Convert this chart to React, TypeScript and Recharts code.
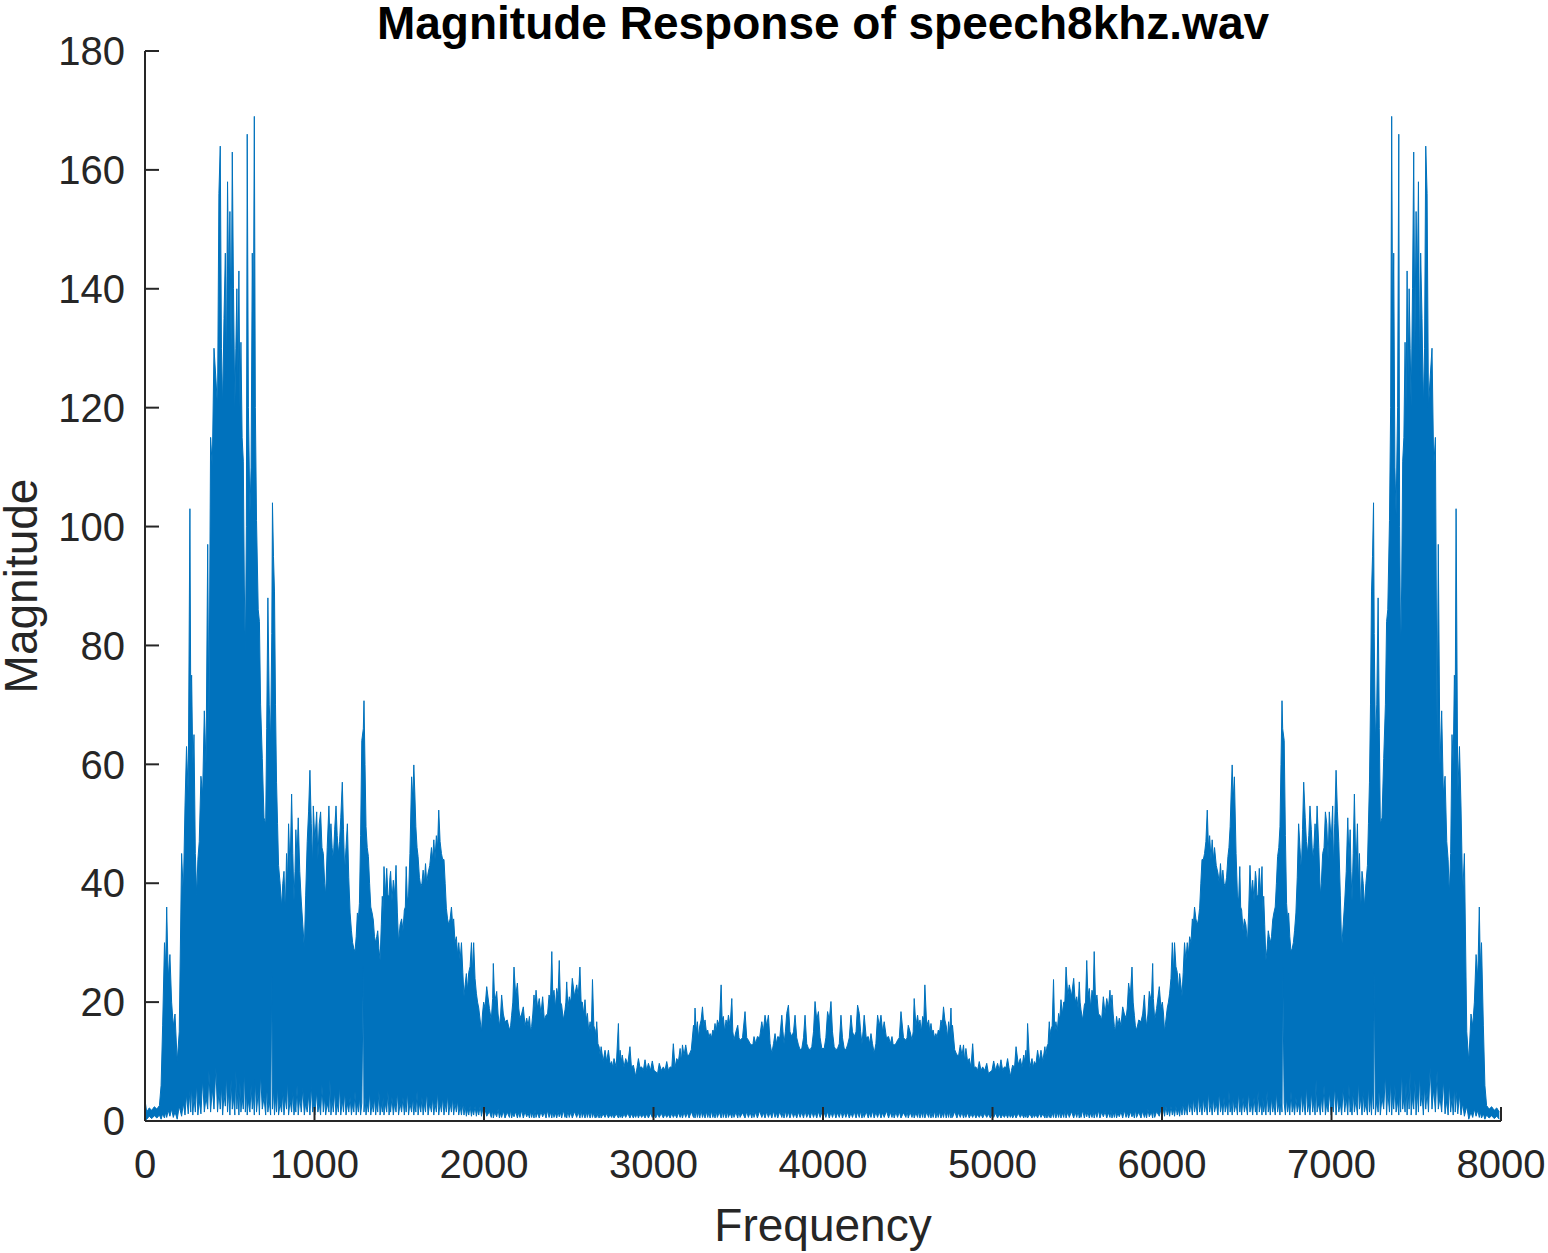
import React from 'react';
import { ComposedChart, Area, XAxis, YAxis } from 'recharts';

// half spectrum (0..4000 Hz); the upper half is its mirror image
const freqHz = [
  0, 10, 25, 40, 55, 70, 85, 95, 104, 115,
  122, 128, 137, 147, 157, 167, 177, 190, 202, 216,
  226, 236, 245, 255, 265, 270, 275, 282, 289, 297,
  305, 312, 320, 330, 340, 350, 360, 370, 377, 387,
  397, 407, 418, 428, 436, 444, 451, 458, 466, 474,
  480, 487, 494, 501, 508, 515, 522, 530, 536, 542,
  548, 554, 560, 566, 573, 580, 586, 592, 598, 603,
  610, 619, 626, 633, 639, 645, 651, 658, 668, 675,
  682, 692, 702, 712, 718, 725, 733, 741, 748, 752,
  758, 764, 770, 776, 782, 788, 797, 806, 813, 820,
  828, 835, 841, 847, 856, 865, 872, 879, 885, 890,
  897, 904, 913, 922, 931, 940, 948, 957, 965, 973,
  981, 989, 993,
  1002, 1013, 1020, 1028, 1036, 1044, 1052, 1060, 1066, 1075,
  1085, 1091, 1097, 1104, 1111, 1119, 1127, 1134, 1141, 1148,
  1155, 1164, 1171, 1178, 1186, 1194, 1202, 1210, 1218, 1225,
  1232, 1239, 1246, 1253, 1259, 1265, 1272, 1279, 1288, 1292,
  1298, 1304, 1311, 1318, 1325, 1332, 1340, 1347, 1354, 1361,
  1367, 1373, 1380, 1387, 1394, 1400, 1405, 1410, 1418, 1426,
  1433, 1440, 1445, 1449, 1457, 1465, 1473, 1481, 1489, 1496,
  1505, 1514, 1522, 1530, 1536, 1541, 1548, 1555, 1563, 1573,
  1580, 1586, 1592, 1598, 1605, 1611, 1619, 1627, 1634, 1641,
  1648, 1655, 1662, 1670, 1680, 1690, 1697, 1704, 1711, 1719,
  1726, 1733, 1741, 1749, 1756, 1764, 1771, 1778, 1785, 1792,
  1800, 1808, 1815, 1821, 1829, 1837, 1844, 1851, 1859, 1867,
  1875, 1882, 1889, 1896, 1903, 1910, 1918, 1926, 1932, 1939,
  1947, 1955, 1962, 1969, 1977, 1985, 1991, 1998, 2006, 2016,
  2032, 2043, 2051, 2055, 2063, 2075, 2083, 2091, 2098, 2104,
  2114, 2124, 2137, 2150, 2157, 2163, 2170, 2177, 2187, 2197,
  2205, 2212, 2222, 2232, 2242, 2252, 2260, 2268, 2275, 2281,
  2288, 2295, 2301, 2307, 2316, 2326, 2336, 2346, 2356, 2366,
  2375, 2384, 2392, 2400, 2406, 2413, 2421, 2429, 2437, 2444,
  2451, 2458, 2468, 2478, 2483, 2488, 2495, 2503, 2512, 2521,
  2534, 2547, 2556, 2566, 2573, 2580, 2588, 2596, 2603, 2610,
  2618, 2626, 2633, 2640, 2648, 2656, 2660, 2665, 2672, 2679,
  2685, 2691, 2703, 2714, 2724, 2734, 2744, 2753, 2760, 2767,
  2780, 2793, 2798, 2803, 2810, 2816, 2826, 2836, 2848, 2861,
  2870, 2881, 2888, 2895, 2903, 2911, 2920, 2930, 2940, 2950,
  2960, 2970, 2982, 2993, 3003, 3013, 3024, 3034, 3046, 3058,
  3068, 3078, 3088, 3098, 3108, 3117, 3127, 3137, 3147, 3157,
  3164, 3171, 3180, 3190, 3200, 3210, 3223, 3236, 3240, 3245,
  3252, 3259, 3265, 3273, 3281, 3289, 3297, 3304, 3312, 3320,
  3327, 3334, 3342, 3350, 3357, 3363, 3370, 3377, 3388, 3399,
  3405, 3412, 3420, 3428, 3435, 3442, 3452, 3462, 3468, 3475,
  3486, 3497, 3504, 3511, 3525, 3540, 3550, 3560, 3570, 3580,
  3587, 3593, 3603, 3613, 3626, 3639, 3648, 3658, 3668, 3678,
  3688, 3698, 3708, 3717, 3725, 3733, 3745, 3757, 3764, 3770,
  3778, 3786, 3796, 3805, 3816, 3826, 3835, 3845, 3855, 3865,
  3875, 3885, 3894, 3904, 3914, 3924, 3934, 3944, 3953, 3963,
  3973, 3983, 3993,
];

// upper envelope of the spectrum at each frequency
const peakMag = [
  3.5, 1.5, 2.2, 1.8, 2.4, 2.0, 2.6, 6, 16, 30,
  26, 36, 24, 28, 20, 16, 18, 10, 15, 45,
  38, 53, 63, 55, 103, 70, 75, 60, 65, 45,
  38, 44, 47, 58, 55, 69, 60, 97, 65, 115,
  110, 130, 125, 120, 156, 164, 130, 120, 135, 146,
  125, 158, 140, 153, 130, 163, 140, 120, 130, 140,
  125, 143, 120, 131, 115, 111, 90, 78, 100, 166,
  120, 102, 110, 146, 130, 169, 120, 101, 86, 84,
  70, 61, 51, 50, 66, 88, 70, 64, 82, 104,
  95, 89, 70, 57, 50, 43, 40, 36, 40, 42,
  35, 45, 40, 50, 42, 55, 45, 37, 42, 49,
  44, 51, 42, 37, 33, 29, 38, 47, 52, 59,
  50, 43, 53,
  47, 52, 44, 50, 52, 46, 45, 40, 38, 46,
  53, 47, 50, 46, 44, 49, 53, 48, 45, 47,
  51, 57, 49, 42, 46, 50, 41, 35, 32, 30,
  29, 28.5, 31, 35, 34, 36.6, 48, 64, 66, 70.7,
  60, 49.5, 46, 44.5, 40, 36, 35, 33.8, 31, 30,
  31, 32, 29, 27, 33, 37.8, 35, 42.8, 38, 42.5,
  38, 37.8, 41, 42, 37, 40.5, 38, 43, 35, 30,
  33, 34, 32, 35.5, 36, 42.8, 37, 38, 45, 57.9,
  54, 59.9, 55, 49.5, 46, 44.5, 41, 39.4, 40, 42.2,
  40, 43.3, 40, 41.7, 43, 46, 44, 47.3, 44, 48,
  46, 52.3, 47, 45, 44, 44, 40, 35.8, 34, 33,
  34, 36, 33, 34, 30, 31, 28, 30, 27, 30,
  25, 21, 23, 24.8, 22, 25, 26, 30, 25, 30,
  24, 21.5, 20, 19, 17, 15, 18, 20, 19, 22.6,
  18.9, 17, 20.6, 26.5, 20, 21.8, 18, 15.9, 18, 21.2,
  18, 16.7, 17, 15.3, 16, 17.8, 20, 25.9, 21, 23.2,
  19, 17.3, 18, 19.2, 16, 17.3, 16, 17.6, 15, 15.9,
  18, 21.2, 19, 22, 19, 20.6, 18, 20.9, 17, 17.8,
  18, 21.2, 20, 28.5, 21, 22, 19, 22.3, 21, 27,
  20, 19.5, 17, 18.7, 20, 23.4, 19, 20.9, 20, 24,
  21, 22.9, 21, 25.9, 20, 20, 18, 20.4, 17, 18.1,
  15, 16.7, 15, 23.8, 16, 15.3, 14, 16.7, 13, 12.5,
  11, 12.5, 10, 11.9, 10, 11.9, 9.5, 10, 9, 10.5,
  9, 16.4, 10, 11.9, 10, 11.1, 9, 10.5, 9.5, 12.5,
  9, 9.4, 8.5, 7.5, 9, 10.5, 9, 9.1, 8.5, 10.3,
  8.5, 9.7, 8.5, 10.1, 8.5, 8.3, 8, 9.7, 8.5, 9.1,
  8.5, 10, 8.5, 9.1, 9, 13, 9, 10.5, 10, 12.2,
  10, 12.8, 11, 12.8, 11, 11.1, 12, 16.1, 14, 19,
  15, 16.7, 14, 16, 17, 19.2, 16, 17, 15, 15.3,
  14, 14.7, 14, 15.3, 15, 16.4, 15, 17, 16, 22.9,
  17, 17.6, 15, 17, 16, 17.8, 16, 20.6, 15, 13.6,
  15, 16.1, 14, 13.6, 14, 18.4, 14, 13.6, 13, 12.8,
  13, 14.2, 13, 14.2, 14, 16.7, 15, 17.8, 16, 17.8,
  13, 11.4, 13, 14.7, 13, 14.2, 14, 17.8, 15, 13,
  15, 18.1, 19.5, 15, 14.2, 15, 17.8, 14, 12.8, 12,
  12.2, 14, 17.8, 13, 12.2, 12, 12.5, 15, 20.1, 17,
  18.4, 14, 12.2,
];

// lower envelope (the white notches along the floor)
const floorMag = [
  0, 0.3, 0.8, 0.4, 0.9, 0.5, 1.0, 0.3, 1.2, 0.5,
  1.5, 0.6, 1.8, 0.8, 2.0, 0.6, 1.5, 0.3, 2.5, 0.8,
  3.0, 1.0, 4.5, 1.2, 5.0, 1.5, 6.0, 1.0, 4.0, 1.5,
  6.5, 1.0, 3.5, 1.2, 7.0, 1.5, 4.0, 2.0, 8.5, 1.5,
  5.5, 2.0, 9.0, 1.5, 5.0, 2.0, 6.0, 1.0, 4.5, 2.5,
  8.0, 1.5, 5.0, 1.0, 7.0, 2.0, 4.0, 1.0, 8.5, 2.0,
  5.0, 1.0, 6.5, 1.5, 4.0, 2.0, 9.0, 1.5, 5.0, 1.0,
  3.5, 1.5, 6.0, 2.0, 4.5, 1.0, 7.0, 1.5, 5.0, 1.0,
  8.0, 2.0, 4.0, 1.0, 6.0, 1.5, 3.5, 1.0, 25, 2.0,
  5.5, 1.0, 4.0, 1.5, 6.0, 1.0, 3.0, 1.5, 5.0, 1.0,
  4.0, 2.0, 7.0, 1.0, 3.5, 1.5, 5.0, 1.0, 3.0, 1.5,
  6.0, 1.0, 4.0, 1.5, 5.5, 1.0, 3.0, 1.5, 4.5, 1.0,
  6.0, 1.5, 3.0,
  1.0, 5.0, 1.5, 3.0, 1.0, 6.0, 1.5, 4.0, 1.0, 3.0,
  1.5, 7.0, 1.0, 3.5, 1.5, 5.0, 1.0, 3.0, 1.5, 6.0,
  1.0, 3.5, 1.5, 5.0, 1.0, 3.0, 1.5, 4.0, 1.0, 3.0,
  1.5, 5.0, 1.0, 3.0, 1.5, 4.0, 1.0, 3.0, 26, 1.5,
  4.0, 1.0, 3.0, 1.5, 5.0, 1.0, 3.0, 1.5, 4.0, 1.0,
  3.0, 1.5, 5.0, 1.0, 3.0, 1.5, 4.0, 1.0, 3.0, 1.5,
  5.0, 1.0, 3.0, 1.5, 4.0, 1.0, 3.0, 1.5, 5.0, 1.0,
  3.0, 1.5, 4.0, 1.0, 3.0, 1.5, 5.0, 1.0, 3.0, 1.5,
  4.0, 1.0, 3.0, 1.5, 5.0, 1.0, 3.0, 1.5, 4.0, 1.0,
  3.0, 1.5, 5.0, 1.0, 3.0, 1.5, 4.0, 1.0, 3.0, 1.5,
  5.0, 1.0, 3.0, 1.5, 4.0, 1.0, 3.0, 1.5, 4.5, 1.0,
  3.0, 1.5, 4.0, 1.0, 3.0, 1.5, 3.5, 1.0, 2.5, 1.0,
  3.0, 1.0, 2.5, 0.8, 2.0, 1.0, 2.5, 0.8, 2.0, 1.0,
  2.5, 0.8, 2.0, 1.0, 2.5, 0.8, 2.0, 1.0, 2.0, 0.8,
  1.6, 0.6, 1.8, 0.5, 1.5, 0.7, 2.0, 0.5, 1.4, 0.6,
  1.7, 0.5, 1.5, 0.6, 1.9, 0.5, 1.4, 0.7, 1.6, 0.5,
  1.5, 0.6, 1.8, 0.5, 1.6, 0.7, 1.4, 0.5, 1.7, 0.6,
  1.5, 0.5, 1.9, 0.6, 1.4, 0.5, 1.6, 0.7, 1.5, 0.5,
  1.8, 0.6, 1.5, 0.5, 1.7, 0.6, 1.4, 0.5, 1.6, 0.7,
  1.5, 0.5, 1.8, 0.6, 1.4, 0.5, 1.7, 0.6, 1.5, 0.5,
  1.6, 0.6, 1.5, 0.5, 1.8, 0.6, 1.4, 0.5, 1.6, 0.6,
  1.5, 0.5, 1.7, 0.6, 1.4, 0.5, 1.5, 0.6, 1.3, 0.5,
  1.4, 0.5, 1.2, 0.6, 1.3, 0.5, 1.1, 0.6, 1.2, 0.5,
  1.2, 0.5, 1.3, 0.6, 1.1, 0.5, 1.2, 0.6, 1.3, 0.5,
  1.2, 0.5, 1.1, 0.6, 1.3, 0.5, 1.2, 0.6, 1.1, 0.5,
  1.2, 0.5, 1.3, 0.6, 1.1, 0.5, 1.2, 0.6, 1.3, 0.5,
  1.2, 0.6, 1.1, 0.5, 1.3, 0.6, 1.2, 0.5, 1.4, 0.6,
  1.3, 0.5, 1.5, 0.6, 1.4, 0.5, 1.6, 0.6, 1.5, 0.5,
  1.7, 0.6, 1.5, 0.5, 1.8, 0.6, 1.4, 0.5, 1.6, 0.6,
  1.5, 0.5, 1.7, 0.6, 1.4, 0.5, 1.6, 0.6, 1.5, 0.5,
  1.8, 0.6, 1.5, 0.5, 1.7, 0.6, 1.4, 0.5, 1.6, 0.6,
  1.5, 0.5, 1.7, 0.6, 1.4, 0.5, 1.6, 0.6, 1.5, 0.5,
  1.6, 0.6, 1.5, 0.5, 1.7, 0.6, 1.4, 0.5, 1.6, 0.6,
  1.5, 0.5, 1.7, 0.6, 1.4, 0.5, 1.6, 0.6, 1.5, 0.5,
  1.7, 0.6, 1.5, 0.5, 1.6, 0.6, 1.4, 0.5, 1.5, 0.6,
  1.5, 0.5, 1.7, 0.6, 1.4, 0.5, 1.6, 0.6, 1.5, 0.5,
  1.6, 0.6, 1.4,
];

const SAMPLE_RATE = 8000;
const xTicks = [0, 1000, 2000, 3000, 4000, 5000, 6000, 7000, 8000];
const yTicks = [0, 20, 40, 60, 80, 100, 120, 140, 160, 180];

const lower = freqHz.map((f, i) => ({ f, range: [floorMag[i], peakMag[i]] }));
const upper = freqHz.filter(f => f > 0).map((f, i) => ({
  f: SAMPLE_RATE - f,
  range: [floorMag[i + 1], peakMag[i + 1]],
}));
const data = [...lower, ...upper].sort((a, b) => a.f - b.f);

const FONT = '"Liberation Sans", Arial, Helvetica, sans-serif';
const AXIS = '#262626';
const BLUE = '#0072BD';

const W = 1548;
const H = 1253;

const App: React.FC = () => {
  return (
    <div style={{ position: 'absolute', left: 0, top: 0, width: W, height: H, background: '#fff' }}>
      <ComposedChart
        width={W}
        height={H}
        data={data}
        margin={{ top: 51, right: 47, bottom: 52, left: 45 }}
      >
        <XAxis
          dataKey="f"
          type="number"
          domain={[0, 8000]}
          ticks={xTicks}
          height={80}
          interval={0}
          axisLine={{ stroke: AXIS, strokeWidth: 2 }}
          tickLine={{ stroke: AXIS, strokeWidth: 2 }}
          tickSize={-14}
          tickMargin={43}
          tick={{ fill: AXIS, fontSize: 40, fontFamily: FONT }}
        />
        <YAxis
          type="number"
          domain={[0, 180]}
          ticks={yTicks}
          width={100}
          interval={0}
          axisLine={{ stroke: AXIS, strokeWidth: 2 }}
          tickLine={{ stroke: AXIS, strokeWidth: 2 }}
          tickSize={-14}
          tickMargin={34}
          tick={{ fill: AXIS, fontSize: 40, fontFamily: FONT }}
        />
        <Area
          dataKey="range"
          type="linear"
          stroke={BLUE}
          strokeWidth={1}
          fill={BLUE}
          fillOpacity={1}
          dot={false}
          activeDot={false}
          isAnimationActive={false}
        />
      </ComposedChart>
      <svg
        width={W}
        height={H}
        style={{ position: 'absolute', left: 0, top: 0, pointerEvents: 'none' }}
      >
        <text x={823} y={39} textAnchor="middle" fontFamily={FONT} fontWeight="bold" fontSize={46} fill="#000">
          Magnitude Response of speech8khz.wav
        </text>
        <text x={823} y={1241} textAnchor="middle" fontFamily={FONT} fontSize={46} fill={AXIS}>
          Frequency
        </text>
        <text transform="translate(37,586) rotate(-90)" textAnchor="middle" fontFamily={FONT} fontSize={46} fill={AXIS}>
          Magnitude
        </text>
      </svg>
    </div>
  );
};

export default App;
